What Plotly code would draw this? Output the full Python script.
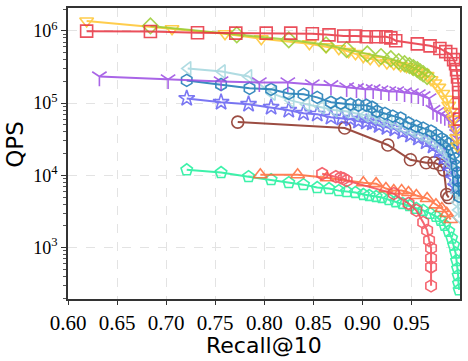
import plotly.graph_objects as go

# recall@10 / QPS pairs for each curve
sq_recall = [0.619, 0.684, 0.732, 0.771, 0.802, 0.827, 0.849, 0.866, 0.881, 0.893, 0.904, 0.914,
             0.924, 0.929, 0.934, 0.956, 0.969, 0.979, 0.985, 0.990, 0.993, 0.995, 0.996, 0.997,
             0.998, 0.9983, 0.9986, 0.9989]
sq_qps = [0.99e6, 0.98e6, 0.94e6, 0.93e6, 0.93e6, 0.93e6, 0.91e6, 0.88e6, 0.85e6, 0.85e6, 0.83e6, 0.83e6,
          0.83e6, 0.80e6, 0.73e6, 0.66e6, 0.62e6, 0.57e6, 0.515e6, 0.47e6, 0.40e6, 0.35e6, 0.29e6, 0.23e6,
          0.18e6, 0.14e6, 0.10e6, 0.06e6]

tri_recall = [0.619, 0.706, 0.760, 0.797, 0.846, 0.863, 0.876, 0.886, 0.893, 0.901, 0.908, 0.917,
              0.925, 0.932, 0.939, 0.945, 0.951, 0.956, 0.961, 0.966, 0.970, 0.974, 0.978, 0.982,
              0.986, 0.988, 0.990, 0.993, 0.995, 0.996, 0.997]
tri_qps = [1.37e6, 1.07e6, 0.91e6, 0.776e6, 0.663e6, 0.603e6, 0.566e6, 0.515e6, 0.483e6, 0.44e6, 0.41e6, 0.39e6,
           0.36e6, 0.35e6, 0.33e6, 0.32e6, 0.30e6, 0.28e6, 0.265e6, 0.24e6, 0.21e6, 0.19e6, 0.165e6, 0.136e6,
           0.113e6, 0.093e6, 0.077e6, 0.060e6, 0.045e6, 0.033e6, 0.0255e6]

dia_recall = [0.684, 0.772, 0.825, 0.863, 0.884, 0.905, 0.919, 0.929, 0.937, 0.943, 0.948, 0.952,
              0.956, 0.959, 0.962, 0.966]
dia_qps = [1.17e6, 0.88e6, 0.75e6, 0.64e6, 0.55e6, 0.48e6, 0.44e6, 0.41e6, 0.375e6, 0.35e6, 0.33e6, 0.31e6,
           0.29e6, 0.27e6, 0.255e6, 0.233e6]

y_recall = [0.632, 0.702, 0.756, 0.795, 0.824, 0.849, 0.868, 0.884, 0.894, 0.903, 0.911, 0.919,
            0.927, 0.935, 0.943, 0.950, 0.957, 0.962, 0.968, 0.972, 0.976, 0.980, 0.984, 0.988,
            0.991, 0.993, 0.995, 0.996, 0.997, 0.998]
y_qps = [233e3, 212e3, 199e3, 193e3, 193e3, 181e3, 176e3, 165e3, 160e3, 155e3, 155e3, 150e3,
         145e3, 145e3, 140e3, 136e3, 132e3, 124e3, 116e3, 80e3, 75e3, 70e3, 66e3, 62e3,
         56e3, 51e3, 44e3, 37e3, 32e3, 27e3]

hex_recall = [0.721, 0.756, 0.785, 0.807, 0.825, 0.840, 0.854, 0.868, 0.878, 0.888, 0.896, 0.904,
              0.910, 0.915, 0.923, 0.931, 0.939, 0.947, 0.955, 0.962, 0.970, 0.976, 0.981, 0.985,
              0.988, 0.991, 0.993, 0.995, 0.996, 0.997, 0.9976, 0.998, 0.9986]
hex_qps = [206e3, 181e3, 160e3, 155e3, 136e3, 132e3, 120e3, 102.6e3, 99.3e3, 96.3e3, 93.3e3, 93.3e3,
           87.5e3, 77e3, 72e3, 66e3, 62e3, 53e3, 48e3, 45e3, 41e3, 36e3, 32e3, 29e3,
           27e3, 23e3, 20e3, 17e3, 13.5e3, 10.9e3, 8.4e3, 6.6e3, 5.1e3]

lt_recall = [0.722, 0.757, 0.784, 0.808, 0.827, 0.843, 0.858, 0.871, 0.883, 0.893, 0.903, 0.911,
             0.919, 0.927, 0.935, 0.943, 0.951, 0.958, 0.966, 0.972, 0.978, 0.983, 0.987, 0.990,
             0.993, 0.995, 0.996, 0.997, 0.998, 0.9986]
lt_qps = [301e3, 273e3, 233e3, 136e3, 109e3, 96e3, 87.5e3, 80e3, 77e3, 72e3, 68e3, 64e3,
          58e3, 54.5e3, 50e3, 45e3, 41e3, 37e3, 33e3, 30e3, 25.5e3, 21.8e3, 17.7e3, 14.4e3,
          10.9e3, 7.9e3, 5.8e3, 4.2e3, 3.3e3, 2.6e3]

star_recall = [0.721, 0.756, 0.784, 0.807, 0.825, 0.840, 0.854, 0.868, 0.879, 0.888, 0.896, 0.904,
               0.910, 0.917, 0.925, 0.933, 0.941, 0.949, 0.957, 0.965, 0.972, 0.978, 0.983, 0.987,
               0.990, 0.993, 0.995]
star_qps = [116e3, 102.6e3, 96.3e3, 87.5e3, 79.6e3, 72.4e3, 70.2e3, 63.8e3, 61.8e3, 59.9e3, 56.2e3, 54.5e3,
            52.8e3, 49e3, 46e3, 43.7e3, 40e3, 36e3, 32.8e3, 29e3, 25.5e3, 21.8e3, 17.7e3, 14.4e3,
            11.6e3, 9.0e3, 7.0e3]

circ_recall = [0.773, 0.882, 0.926, 0.949, 0.965, 0.973, 0.979, 0.983, 0.986, 0.988]
circ_qps = [54.5e3, 45.1e3, 26.3e3, 16.4e3, 14.9e3, 14.9e3, 14.0e3, 11.9e3, 5.42e3, 4.92e3]

up_recall = [0.796, 0.834, 0.864, 0.901, 0.914, 0.924, 0.932, 0.940, 0.947, 0.955, 0.966, 0.975,
             0.981, 0.986, 0.990]
up_qps = [10.2e3, 10.2e3, 9.27e3, 7.9e3, 7.67e3, 6.55e3, 6.14e3, 6.14e3, 5.77e3, 5.25e3, 4.77e3, 3.9e3,
          3.48e3, 2.97e3, 2.45e3]

rh_recall = [0.859, 0.873, 0.878, 0.881, 0.884, 0.932, 0.947, 0.955, 0.962, 0.966, 0.968, 0.970,
             0.970, 0.970, 0.970]
rh_qps = [10.5e3, 9.57e3, 9.27e3, 9.0e3, 8.44e3, 5.59e3, 4.07e3, 3.27e3, 2.23e3, 1.73e3, 1.26e3, 982,
          715, 538, 295]

pent_recall = [0.721, 0.756, 0.784, 0.807, 0.825, 0.840, 0.854, 0.866, 0.876, 0.884, 0.893, 0.901,
               0.907, 0.914, 0.920, 0.927, 0.934, 0.941, 0.948, 0.955, 0.962, 0.969, 0.975, 0.980,
               0.984, 0.988, 0.991, 0.993, 0.995, 0.996, 0.997, 0.9976, 0.998, 0.9986]
pent_qps = [11.9e3, 10.9e3, 9.57e3, 8.71e3, 7.92e3, 7.43e3, 6.76e3, 6.55e3, 6.14e3, 5.95e3, 5.77e3, 5.42e3,
            5.25e3, 5.08e3, 4.92e3, 4.6e3, 4.3e3, 4.07e3, 3.8e3, 3.48e3, 3.27e3, 2.97e3, 2.7e3, 2.38e3,
            2.03e3, 1.68e3, 1.35e3, 1.08e3, 840, 660, 515, 410, 320, 260]

x_ticks = [0.60, 0.65, 0.70, 0.75, 0.80, 0.85, 0.90, 0.95]
y_ticks = [1e3, 1e4, 1e5, 1e6]
y_ticktext = ['10<sup>3</sup>', '10<sup>4</sup>', '10<sup>5</sup>', '10<sup>6</sup>']

series = [
    (pent_recall, pent_qps, 'pentagon-open', '#1CF09C'),
    (up_recall, up_qps, 'triangle-up-open', '#FF6A38'),
    (rh_recall, rh_qps, 'hexagon-open', '#F44B57'),
    (circ_recall, circ_qps, 'circle-open', '#8B2E22'),
    (star_recall, star_qps, 'star-open', '#6460F2'),
    (lt_recall, lt_qps, 'triangle-left-open', '#A3D6DE'),
    (hex_recall, hex_qps, 'hexagon-open', '#1878B4'),
    (y_recall, y_qps, 'y-down-open', '#9B4BE3'),
    (tri_recall, tri_qps, 'triangle-down-open', '#FFC52E'),
    (dia_recall, dia_qps, 'diamond-open', '#9ACD32'),
    (sq_recall, sq_qps, 'square-open', '#E8313F'),
]

fig = go.Figure()
for xs, ys, sym, col in series:
    fig.add_trace(go.Scatter(
        x=xs, y=ys, mode='lines+markers', opacity=0.85,
        line=dict(color=col, width=2),
        marker=dict(symbol=sym, size=12, color=col, line=dict(width=1.6, color=col)),
        showlegend=False,
    ))

minor_vals = [m * 10 ** k for k in range(2, 7) for m in range(2, 10)]

serif = 'Liberation Serif, Times New Roman, serif'

fig.update_layout(
    width=468, height=361,
    plot_bgcolor='white', paper_bgcolor='white',
    margin=dict(l=68, r=7, t=6, b=62),
    xaxis=dict(
        range=[0.6, 0.9995], tickvals=x_ticks, ticktext=['%.2f' % v for v in x_ticks],
        tickfont=dict(family=serif, size=21, color='black'),
        ticks='outside', ticklen=4, tickcolor='#333',
        showline=True, linecolor='#333', linewidth=1.5, mirror=True,
        showgrid=True, gridcolor='#e3e3e3', griddash='dash', zeroline=False,
    ),
    yaxis=dict(
        type='log', range=[2.288, 6.316], tickvals=y_ticks, ticktext=y_ticktext,
        tickfont=dict(family=serif, size=18, color='black'),
        ticks='outside', ticklen=5, tickcolor='#333',
        minor=dict(tickvals=minor_vals, ticks='outside', ticklen=3, tickcolor='#555'),
        showline=True, linecolor='#333', linewidth=1.5, mirror=True,
        showgrid=True, gridcolor='#e3e3e3', griddash='dash', zeroline=False,
    ),
    annotations=[
        dict(text='Recall@10', xref='paper', yref='paper', x=0.501, y=0, yshift=-46,
             xanchor='center', yanchor='middle', showarrow=False,
             font=dict(family='DejaVu Sans', size=22, color='black')),
        dict(text='QPS', xref='paper', yref='paper', x=0, y=0.53, xshift=-53,
             xanchor='center', yanchor='middle', textangle=-90, showarrow=False,
             font=dict(family='DejaVu Sans', size=23, color='black')),
    ],
)

# drop the page's default body margin so the 468x361 figure fills the window
fig.write_html('out.html', config={'displayModeBar': False},
               post_script="document.body.style.margin='0';")
